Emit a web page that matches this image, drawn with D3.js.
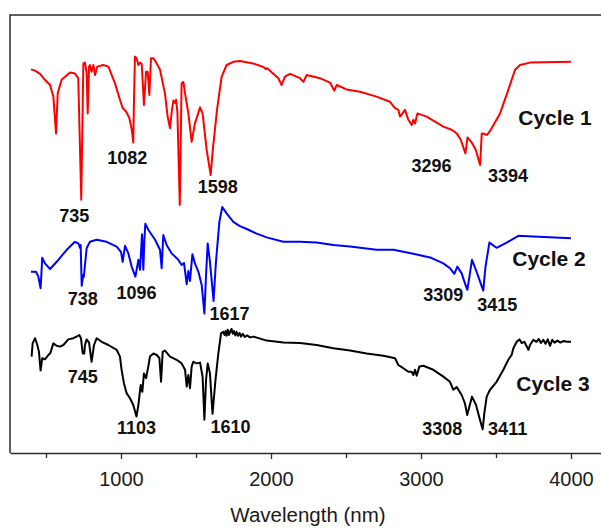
<!DOCTYPE html>
<html>
<head>
<meta charset="utf-8">
<script src="https://cdn.jsdelivr.net/npm/d3@7"></script>
<style>
  html, body { margin: 0; padding: 0; background: #fff; }
  svg { display: block; font-family: "Liberation Sans", Arial, sans-serif; }
</style>
</head>
<body>
<svg id="chart" width="601" height="528"></svg>
<script>
// FTIR spectra of three cycles: [wavenumber, offset transmittance]
const cycle1 = [
  [400,95.9],[427,95.6],[460,94.8],[493,93.3],[527,92.0],[549,89.1],[567,79.9],[578,89.9],
  [604,93.3],[660,95.1],[693,94.9],[715,93.7],[735,63.3],[749,97.4],[760,97.6],[771,95.0],
  [778,84.9],[787,96.6],[793,97.0],[804,95.3],[816,97.0],[827,94.5],[842,96.6],[882,97.0],
  [916,96.6],[960,92.4],[993,88.3],[1010,86.3],[1035,85.3],[1055,83.8],[1072,80.8],[1082,77.6],
  [1086,87.0],[1093,99.1],[1104,98.7],[1116,97.0],[1127,97.6],[1138,97.3],[1153,87.0],[1167,95.3],
  [1178,95.3],[1189,89.5],[1200,98.7],[1216,98.7],[1238,97.4],[1260,95.8],[1293,89.9],[1311,84.1],
  [1327,81.2],[1338,85.3],[1349,88.1],[1360,87.5],[1367,88.3],[1376,85.3],[1392,62.0],[1404,92.4],
  [1416,92.8],[1427,89.9],[1449,84.9],[1471,77.8],[1493,82.4],[1527,86.4],[1544,84.9],[1571,75.8],
  [1598,69.5],[1612,75.8],[1640,85.8],[1671,94.1],[1704,97.0],[1749,97.8],[1793,98.0],[1880,97.4],
  [1950,96.5],[1965,96.0],[1975,96.2],[2049,93.7],[2071,92.0],[2093,94.1],[2127,94.8],[2193,93.7],
  [2216,92.8],[2238,94.5],[2327,93.7],[2393,92.6],[2422,90.6],[2438,92.0],[2504,90.9],[2593,90.3],
  [2704,89.1],[2793,87.8],[2827,86.2],[2849,85.8],[2860,84.1],[2893,85.8],[2916,83.3],[2938,82.0],
  [2949,83.3],[2960,82.4],[2976,84.9],[3038,84.1],[3149,81.6],[3204,80.8],[3238,79.9],[3265,78.3],
  [3296,74.9],[3310,78.9],[3335,77.8],[3365,75.8],[3394,72.0],[3405,79.9],[3420,79.8],[3440,79.5],
  [3465,80.8],[3527,84.9],[3582,90.8],[3627,95.8],[3660,97.0],[3727,97.6],[4000,97.8]
];

const cycle2 = [
  [400,45.3],[433,45.3],[449,44.1],[464,41.2],[475,48.8],[493,47.4],[527,46.0],[571,47.8],
  [638,50.8],[693,52.8],[716,52.4],[727,51.3],[731,52.0],[738,41.8],[748,44.5],[752,44.0],
  [771,51.2],[793,52.8],[838,53.3],[904,52.8],[971,51.6],[1000,50.3],[1011,47.8],[1027,51.8],
  [1049,49.9],[1071,46.6],[1096,44.1],[1116,48.3],[1127,45.8],[1140,54.7],[1149,45.8],[1156,53.3],
  [1162,57.3],[1182,55.8],[1227,53.3],[1260,50.8],[1271,46.2],[1282,54.5],[1304,52.0],[1338,49.9],
  [1382,48.3],[1404,47.0],[1420,47.5],[1438,42.2],[1449,45.5],[1460,43.0],[1476,49.7],[1493,47.4],
  [1516,45.3],[1538,42.0],[1556,34.9],[1567,44.5],[1578,52.4],[1593,47.8],[1617,38.0],[1633,47.8],
  [1656,57.8],[1675,61.5],[1704,59.9],[1749,57.8],[1790,56.8],[1838,56.0],[1900,54.9],[1971,53.9],
  [2082,52.8],[2193,52.8],[2304,52.6],[2416,52.0],[2527,51.6],[2704,50.8],[2816,50.8],[2949,49.8],
  [3060,48.9],[3149,47.4],[3193,46.2],[3222,44.8],[3242,46.6],[3271,44.9],[3293,42.4],[3309,40.8],
  [3340,48.3],[3371,45.3],[3415,40.6],[3430,46.6],[3456,52.6],[3504,51.3],[3571,52.6],[3649,54.3],
  [3749,54.1],[4000,53.7]
];

const cycle3 = [
  [404,24.1],[411,27.4],[427,28.7],[442,27.0],[453,25.3],[464,20.6],[475,23.7],[493,23.4],
  [516,24.5],[529,25.0],[549,27.4],[571,26.8],[593,26.6],[616,27.0],[649,28.4],[682,28.7],
  [704,29.1],[722,29.5],[733,28.7],[745,24.9],[755,24.9],[760,27.0],[771,28.4],[787,27.6],
  [804,22.8],[820,27.0],[838,28.7],[871,27.8],[916,27.0],[971,25.8],[993,24.1],[1004,20.8],
  [1020,17.4],[1038,14.9],[1060,13.7],[1082,12.0],[1103,9.1],[1116,12.0],[1131,17.0],[1142,15.3],
  [1153,19.9],[1167,18.7],[1182,21.6],[1193,24.1],[1216,24.9],[1238,24.5],[1256,23.7],[1267,17.8],
  [1278,25.3],[1293,25.6],[1327,24.1],[1371,23.3],[1404,22.4],[1427,20.8],[1438,16.6],[1449,19.5],
  [1460,16.2],[1471,21.6],[1482,22.8],[1504,22.4],[1527,22.6],[1544,19.1],[1556,8.3],[1567,18.3],
  [1578,22.4],[1593,19.9],[1610,9.8],[1630,18.3],[1649,24.9],[1667,29.9],[1682,30.3],[1690,29.5],
  [1697,30.5],[1704,29.3],[1712,30.8],[1720,29.5],[1728,30.3],[1737,31.0],[1745,29.8],[1753,30.5],
  [1762,29.4],[1770,30.3],[1780,29.3],[1790,30.0],[1800,29.1],[1812,29.8],[1825,29.0],[1840,29.4],
  [1860,28.9],[1882,29.1],[1971,28.1],[2082,27.6],[2193,27.5],[2304,27.0],[2416,26.2],[2527,25.6],
  [2638,24.9],[2749,24.3],[2827,23.7],[2849,22.0],[2882,21.2],[2916,20.3],[2938,20.3],[2949,19.5],
  [2960,20.8],[2971,19.3],[2989,21.6],[3016,21.8],[3082,20.8],[3149,19.1],[3193,17.8],[3216,15.8],
  [3238,16.5],[3271,14.5],[3293,12.4],[3308,9.5],[3340,14.1],[3367,12.0],[3393,8.3],[3411,5.9],
  [3422,9.9],[3438,14.1],[3460,15.8],[3504,17.8],[3549,20.8],[3582,23.3],[3604,24.5],[3616,26.2],
  [3638,27.8],[3656,28.4],[3671,27.5],[3689,27.8],[3716,25.8],[3727,27.0],[3749,28.3],[3770,27.8],
  [3785,28.5],[3800,27.5],[3815,28.3],[3830,27.3],[3845,28.4],[3860,26.8],[3875,28.3],[3890,27.6],
  [3910,28.1],[3930,27.6],[3950,28.0],[3975,27.8],[4000,27.8]
];

// Labelled band positions for each cycle
const peaks1 = [735, 1082, 1598, 3296, 3394];
const peaks2 = [738, 1096, 1617, 3309, 3415];
const peaks3 = [745, 1103, 1610, 3308, 3411];

const seriesNames = ["Cycle 1", "Cycle 2", "Cycle 3"];
const majorTicks = [1000, 2000, 3000, 4000];
const minorTicks = [500, 1500, 2500, 3500];
const xTitle = "Wavelength (nm)";

const svg = d3.select("#chart");
const plot = { left: 10, right: 601, top: 15, bottom: 453 };

const x = d3.scaleLinear().domain([260, 4200]).range([plot.left, plot.right]);
const y = d3.scaleLinear().domain([0, 109.5]).range([plot.bottom, plot.top]);

// Frame: left and top edges plus the bottom axis
const frameColor = "#2b2b2b";
svg.append("path")
  .attr("d", `M${plot.right},${plot.top}H${plot.left}V${plot.bottom}`)
  .attr("fill", "none").attr("stroke", frameColor).attr("stroke-width", 1.5);

const xAxis = d3.axisBottom(x).tickValues(majorTicks).tickSize(6).tickSizeOuter(0)
  .tickFormat(d3.format("d"));
const gx = svg.append("g").attr("transform", `translate(0,${plot.bottom})`).call(xAxis);
gx.select(".domain").attr("stroke", frameColor).attr("stroke-width", 1.5);
gx.selectAll(".tick line").attr("stroke", frameColor).attr("stroke-width", 1.3);
gx.selectAll(".tick text")
  .attr("fill", "#1a1a1a").attr("font-size", 20)
  .attr("font-family", "'Liberation Sans', Arial, sans-serif")
  .attr("dy", "0.71em").attr("y", 18.5);

const gMinor = svg.append("g").attr("transform", `translate(0,${plot.bottom})`)
  .call(d3.axisBottom(x).tickValues(minorTicks).tickSize(5).tickSizeOuter(0).tickFormat(""));
gMinor.select(".domain").remove();
gMinor.selectAll(".tick line").attr("stroke", frameColor).attr("stroke-width", 1.3);

svg.append("text")
  .attr("x", 308).attr("y", 521.5)
  .attr("text-anchor", "middle")
  .attr("font-size", 20.5).attr("fill", "#1a1a1a")
  .text(xTitle);

// Spectra
const line = d3.line().x(d => x(d[0])).y(d => y(d[1]));
const series = [
  { name: seriesNames[0], data: cycle1, peaks: peaks1, color: "#ff0000",
    nameOffset: [-16, 63],
    labelOffsets: [[-7, 22], [-6, 21], [7, 18], [-34, 19], [28, 17]] },
  { name: seriesNames[1], data: cycle2, peaks: peaks2, color: "#0000ff",
    nameOffset: [-22, 28],
    labelOffsets: [[1, 19], [1, 22], [16, 19], [-24, 11], [14, 20]] },
  { name: seriesNames[2], data: cycle3, peaks: peaks3, color: "#000000",
    nameOffset: [-18, 49],
    labelOffsets: [[0, 30], [0, 17], [18, 19], [-25, 20], [25, 6]] }
];

series.forEach(s => {
  svg.append("path")
    .datum(s.data)
    .attr("fill", "none")
    .attr("stroke", s.color)
    .attr("stroke-width", 2)
    .attr("stroke-linejoin", "round")
    .attr("d", line);

  // Band labels sit under the minimum they name
  s.peaks.forEach((p, i) => {
    const pt = s.data.find(d => d[0] === p);
    const [dx, dy] = s.labelOffsets[i];
    svg.append("text")
      .attr("x", x(pt[0]) + dx).attr("y", y(pt[1]) + dy)
      .attr("text-anchor", "middle")
      .attr("font-size", 18).attr("font-weight", "bold").attr("fill", "#111")
      .text(p);
  });

  const last = s.data[s.data.length - 1];
  svg.append("text")
    .attr("x", x(last[0]) + s.nameOffset[0]).attr("y", y(last[1]) + s.nameOffset[1])
    .attr("text-anchor", "middle")
    .attr("font-size", 21).attr("font-weight", "bold").attr("fill", "#111")
    .text(s.name);
});
</script>
</body>
</html>
